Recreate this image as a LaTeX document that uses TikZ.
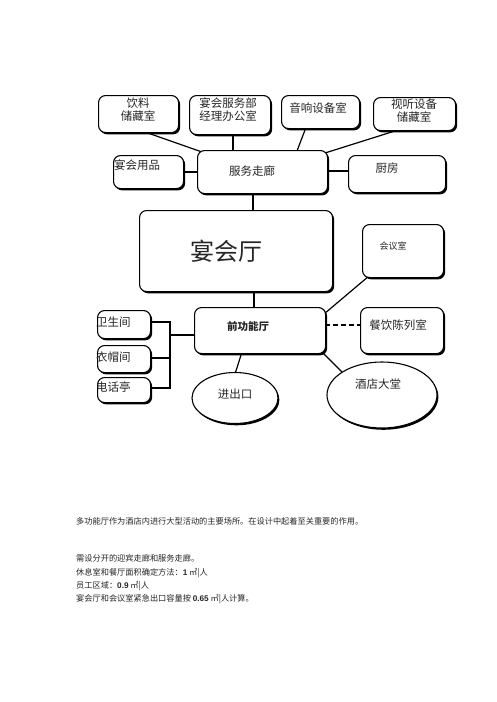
\documentclass[tikz,border=0pt]{standalone}
\usepackage{fontspec}
\setmainfont{Noto Sans CJK SC}
\newfontfamily\cjk{Noto Sans CJK SC}
\newfontfamily\latinf{Liberation Sans}
\usetikzlibrary{shadows,shapes.geometric}
\begin{document}
\begin{tikzpicture}[x=1pt,y=-1pt,
  boxstyle/.style={draw=black,line width=1.1pt,fill=white,rounded corners=7pt,
    drop shadow={shadow xshift=1.6pt,shadow yshift=-1.8pt,fill=black,opacity=1}},
  ellstyle/.style={draw=black,line width=1.1pt,fill=white,ellipse,
    drop shadow={shadow xshift=1.4pt,shadow yshift=-1.8pt,fill=black,opacity=1}},
  conn/.style={line width=1.2pt,black},
  lbl/.style={font=\cjk\fontsize{11.5}{13}\selectfont,inner sep=0pt,align=center,text=black!85},
  note/.style={font=\cjk\fontsize{8.2}{10}\selectfont,inner sep=0pt,anchor=west,text=black!85}
]
\useasboundingbox[fill=white] (0,0) rectangle (496,702);

% helper: box by corners
\newcommand{\mybox}[5]{\node[boxstyle,minimum width=#4-#2,minimum height=#5-#3,anchor=north west] (#1) at (#2,#3) {};}

% connectors first (drawn under boxes)
\coordinate (c1a) at (145,132); \coordinate (c1b) at (202,152);
\coordinate (c2a) at (233,134); \coordinate (c2b) at (233,151);
\coordinate (c3a) at (305,130); \coordinate (c3b) at (297,151);
\coordinate (c4a) at (398,130); \coordinate (c4b) at (325,153);
\coordinate (c5a) at (182,172); \coordinate (c5b) at (198,172);
\coordinate (c6a) at (326,171); \coordinate (c6b) at (349,171);
\coordinate (c7a) at (253,192); \coordinate (c7b) at (253,211);
\coordinate (c8a) at (254,290); \coordinate (c8b) at (254,308);
\coordinate (c9a) at (369,276); \coordinate (c9b) at (324,314);
\coordinate (c11a) at (322,352); \coordinate (c11b) at (343,373);
\coordinate (c12a) at (242,352); \coordinate (c12b) at (235,374);
\coordinate (br0) at (195,335); \coordinate (brx) at (170,335);
\coordinate (brt) at (170,322); \coordinate (brb) at (170,388);
\coordinate (bm) at (170,358);
\coordinate (b1) at (149,322); \coordinate (b2) at (149,358); \coordinate (b3) at (149,388);
\coordinate (d1) at (325,325); \coordinate (d2) at (361,325);

\draw[conn] (c1a) -- (c1b);
\draw[conn] (c2a) -- (c2b);
\draw[conn] (c3a) -- (c3b);
\draw[conn] (c4a) -- (c4b);
\draw[conn] (c5a) -- (c5b);
\draw[conn] (c6a) -- (c6b);
\draw[conn] (c7a) -- (c7b);
\draw[conn] (c8a) -- (c8b);
\draw[conn] (c9a) -- (c9b);
\draw[conn] (c11a) -- (c11b);
\draw[conn] (c12a) -- (c12b);
\draw[conn] (br0) -- (brx);
\draw[conn] (b1) -- (brt) -- (brb) -- (b3);
\draw[conn] (b2) -- (bm);
\draw[conn,dash pattern=on 5pt off 3pt] (d1) -- (d2);

% boxes
\mybox{yl}{98}{95}{178}{132}
\mybox{jl}{189}{95}{270}{134}
\mybox{yx}{281}{95}{359}{128}
\mybox{st}{373}{97}{455}{130}
\mybox{yp}{113}{155}{183}{188}
\mybox{fw}{197}{150}{327}{193}
\mybox{cf}{348}{155}{445}{192}
\mybox{yh}{139}{210}{332}{291}
\mybox{hy}{362}{224}{443}{277}
\mybox{qg}{194}{307}{325}{353}
\mybox{ws}{97}{310}{150}{338}
\mybox{ym}{97}{345}{150}{372}
\mybox{dh}{97}{377}{150}{402}
\mybox{cy}{360}{307}{443}{353}
\node[ellstyle,minimum width=86pt,minimum height=51pt] (jc) at (235,398) {};
\node[ellstyle,minimum width=110pt,minimum height=66pt] (jd) at (382,395) {};

% labels
\node[lbl] (t1) at (138,110) {饮料\\储藏室};
\node[lbl] (t2) at (228,110) {宴会服务部\\经理办公室};
\node[lbl] (t3) at (318,108) {音响设备室};
\node[lbl] (t4) at (414,111) {视听设备\\储藏室};
\node[lbl,anchor=west] (t5) at (114,165) {宴会用品};
\node[lbl] (t6) at (252,171) {服务走廊};
\node[lbl] (t7) at (387,168) {厨房};
\node[lbl,font=\cjk\fontsize{24}{26}\selectfont] (t8) at (226,251) {宴会厅};
\node[lbl,font=\cjk\fontsize{9}{10}\selectfont] (t9) at (393,246) {会议室};
\node[lbl,font=\cjk\bfseries\fontsize{10.5}{12}\selectfont] (t10) at (248,327) {前功能厅};
\node[lbl,anchor=west] (t11) at (96,322) {卫生间};
\node[lbl,anchor=west] (t12) at (96,357) {衣帽间};
\node[lbl,anchor=west] (t13) at (96,387) {电话亭};
\node[lbl] (t14) at (235,394) {进出口};
\node[lbl] (t15) at (398,325) {餐饮陈列室};
\node[lbl] (t16) at (378,384) {酒店大堂};

% notes
\node[note] (n1) at (76,521) {多功能厅作为酒店内进行大型活动的主要场所。在设计中起着至关重要的作用。};
\node[note] (n2) at (76,558) {需设分开的迎宾走廊和服务走廊。};
\node[note] (n3) at (76,573) {休息室和餐厅面积确定方法：{\latinf\bfseries 1} ㎡|人};
\node[note] (n4) at (76,586) {员工区域：{\latinf\bfseries 0.9} ㎡|人};
\node[note] (n5) at (76,599) {宴会厅和会议室紧急出口容量按 {\latinf\bfseries 0.65} ㎡|人计算。};
\end{tikzpicture}
\end{document}
